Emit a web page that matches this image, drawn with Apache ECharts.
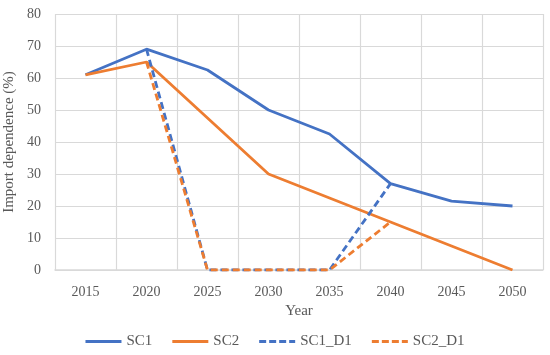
<!DOCTYPE html>
<html><head><meta charset="utf-8">
<script src="https://cdn.jsdelivr.net/npm/echarts@6/dist/echarts.min.js"></script>
<style>html,body{margin:0;padding:0;background:#fff}#c{width:550px;height:355px}</style>
</head><body><div id="c"></div>
<script>
const years = ['2015','2020','2025','2030','2035','2040','2045','2050'];
const sc1 = [61, 69, 62.5, 50, 42.5, 27, 21.5, 20];
const sc2 = [61, 65, 47.5, 30, 22.5, 15, 7.5, 0];
const sc1d1 = [null, 69, 0, 0, 0, 27, null, null];
const sc2d1 = [null, 65, 0, 0, 0, 15, null, null];
const yTicks = [0, 10, 20, 30, 40, 50, 60, 70, 80];

const font = 'Liberation Serif';
const chart = echarts.init(document.getElementById('c'));
function s(name, data, color, type) {
  return {name, type:'line', data, symbol:'none', connectNulls:false,
    lineStyle:{color, width:2.8, type: type, cap:'butt'}, itemStyle:{color}};
}
chart.setOption({
  animation:false,
  textStyle:{fontFamily:font},
  grid:{left:55, right:7, top:14, bottom:85, containLabel:false, outerBoundsMode:'none'},
  xAxis:{type:'category', data:years, boundaryGap:true,
    name:'Year', nameLocation:'middle', nameGap:32,
    nameTextStyle:{color:'#595959', fontSize:15, fontFamily:font},
    axisLine:{show:true, lineStyle:{color:'#d9d9d9', width:1.5}},
    axisTick:{show:false},
    axisLabel:{color:'#595959', fontSize:14, fontFamily:font, margin:15},
    splitLine:{show:true, lineStyle:{color:'#d9d9d9', width:1.2}}},
  yAxis:{type:'value', min:yTicks[0], max:yTicks[yTicks.length-1], interval:10,
    name:'Import dependence (%)', nameLocation:'middle', nameGap:34,
    nameTextStyle:{color:'#595959', fontSize:15, fontFamily:font},
    axisLine:{show:false}, axisTick:{show:false},
    axisLabel:{color:'#595959', fontSize:14, fontFamily:font, margin:14},
    splitLine:{show:true, lineStyle:{color:'#d9d9d9', width:1.2}}},
  legend:{bottom:1, left:'center', itemWidth:36, itemHeight:3, itemGap:20,
    textStyle:{color:'#595959', fontSize:15, fontFamily:font},
    data:[
      {name:'SC1', icon:'path://M0,0H36V3H0Z'},
      {name:'SC2', icon:'path://M0,0H36V3H0Z'},
      {name:'SC1_D1', icon:'path://M0,0H7V3H0ZM10,0H17V3H10ZM20,0H27V3H20ZM30,0H36V3H30Z'},
      {name:'SC2_D1', icon:'path://M0,0H7V3H0ZM10,0H17V3H10ZM20,0H27V3H20ZM30,0H36V3H30Z'}
    ]},
  series:[
    s('SC1', sc1, '#4472C4', 'solid'),
    s('SC2', sc2, '#ED7D31', 'solid'),
    s('SC1_D1', sc1d1, '#4472C4', [7,4]),
    s('SC2_D1', sc2d1, '#ED7D31', [7,4])
  ]
});
</script></body></html>
